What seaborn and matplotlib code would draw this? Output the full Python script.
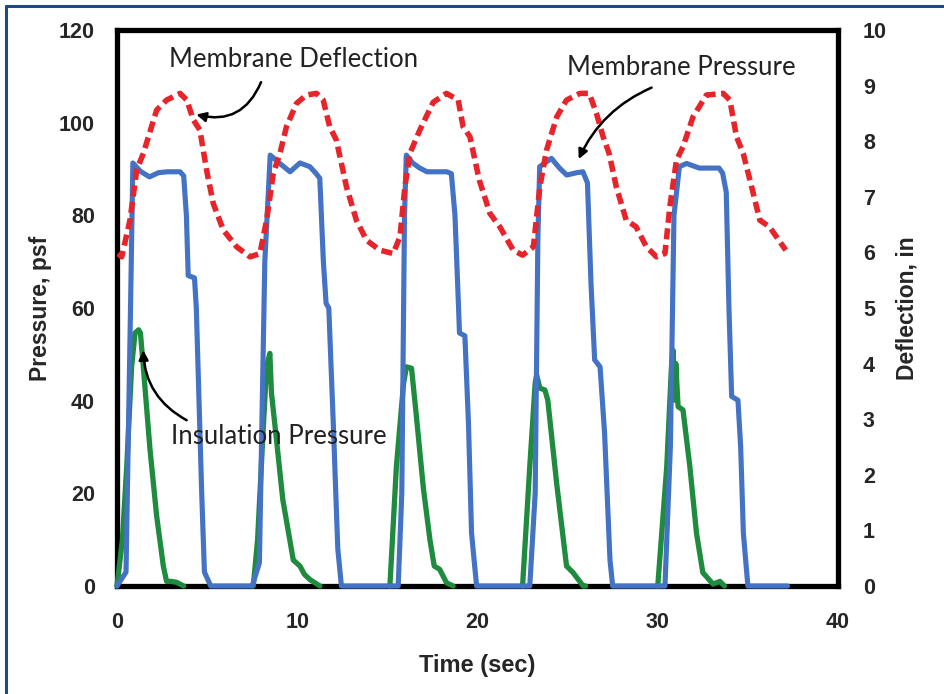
import matplotlib
matplotlib.use("Agg")
import matplotlib.pyplot as plt
import seaborn as sns
import pandas as pd
from matplotlib.lines import Line2D

# ---------------- data ----------------
mp_time = [0, 0.5, 0.75, 0.88, 1.3, 1.8, 2.3, 2.8, 3.5, 3.7, 3.85, 3.95, 4.3, 4.4, 4.7, 4.85, 5.2,
           7.5, 7.9, 8.2, 8.5, 9.0, 9.6, 10.15, 10.7, 11.05, 11.25, 11.45, 11.6, 11.75, 12.0, 12.25, 12.45,
           15.6, 15.8, 15.95, 16.05, 16.4, 16.8, 17.2, 18.3, 18.55, 18.75, 18.95, 19.0, 19.3, 19.5, 19.67, 19.95,
           22.9, 23.2, 23.35, 23.45, 24.1, 24.55, 24.95, 25.5, 25.85, 26.1, 26.3, 26.5, 26.8, 27.05, 27.35, 27.5,
           30.4, 30.7, 30.9, 31.2, 31.6, 32.3, 33.4, 33.6, 33.8, 33.95, 34.1, 34.45, 34.6, 34.75, 35.0, 37.2]
mp_psf = [0, 3, 60, 91.3, 89.5, 88.3, 89.2, 89.4, 89.4, 88.5, 80, 67, 66.5, 60, 20, 3, 0,
          0, 5, 70, 93, 91.3, 89.4, 91.3, 90.5, 89, 88, 70, 61, 60, 35, 8, 0,
          0, 20, 80, 93, 91.3, 90.2, 89.4, 89.4, 89, 80, 60, 54.6, 54, 35, 11.4, 0,
          0, 20, 75, 90.5, 92.3, 90.2, 88.7, 89.2, 89.4, 87, 65, 48.8, 47.3, 33, 5.6, 0,
          0, 30, 80, 90.5, 91.2, 90.2, 90.2, 89.1, 85, 60, 40.9, 40.1, 30, 11.4, 0, 0]

ins_cycle = [1] * 15 + [2] * 13 + [3] * 12 + [4] * 12 + [5] * 14
ins_time = [0, 0.3, 0.54, 0.81, 1.0, 1.2, 1.3, 1.46, 1.83, 2.2, 2.57, 2.75, 3.0, 3.3, 3.7,
            7.56, 7.8, 8.1, 8.3, 8.48, 8.57, 8.85, 9.2, 9.78, 10.15, 10.4, 10.7, 11.26,
            15.14, 15.5, 15.9, 16.06, 16.34, 16.6, 17.0, 17.36, 17.6, 17.9, 18.28, 18.65,
            22.5, 22.9, 23.2, 23.28, 23.46, 23.74, 23.9, 24.39, 24.94, 25.3, 25.86, 26.0,
            30.0, 30.5, 30.76, 30.85, 30.95, 31.0, 31.13, 31.4, 31.78, 32.15, 32.5, 33.07, 33.45, 33.7]
ins_psf = [0, 10, 25.8, 47.3, 54.6, 55.3, 54.6, 47.3, 29.5, 15.1, 4.3, 1, 1, 0.8, 0,
           0, 10, 33, 47.3, 50.2, 41.6, 31.5, 18.6, 5.6, 4.3, 2.5, 1.4, 0,
           0, 25.8, 43.8, 47.3, 47, 37, 21, 10, 4.3, 3.6, 0.7, 0,
           0, 25.8, 43.8, 45.5, 42.7, 42.3, 40.1, 22.2, 4.3, 2.9, 0, 0,
           0, 25.8, 47.3, 50.9, 40.1, 48, 38.7, 38, 25.8, 11.4, 2.9, 0.4, 1, 0]

def_time = [0.05, 0.26, 0.72, 1.09, 1.46, 2.2, 2.75, 3.5, 3.87, 4.24, 4.6, 4.97, 5.34, 5.9, 6.64, 7.38,
            7.93, 8.3, 8.67, 9.04, 9.4, 9.96, 10.5, 11.07, 11.44, 11.8, 12.17, 12.73, 13.28, 13.84, 14.58,
            15.32, 15.7, 15.97, 16.25, 16.8, 17.54, 18.28, 18.93, 19.2, 19.58, 20.1, 20.69, 21.24, 21.98,
            22.5, 23.1, 23.46, 23.83, 24.4, 24.94, 25.68, 26.2, 26.6, 26.97, 27.3, 27.7, 28.25, 28.8, 29.37,
            29.93, 30.4, 30.67, 31.04, 31.4, 31.96, 32.7, 33.63, 34.0, 34.37, 34.74, 35.3, 35.66, 36.2, 37.1]
def_in = [5.98, 5.92, 6.58, 7.48, 7.78, 8.56, 8.74, 8.86, 8.74, 8.38, 8.2, 7.48, 6.88, 6.4, 6.1, 5.92,
          5.98, 6.58, 7.42, 7.78, 8.26, 8.68, 8.83, 8.86, 8.74, 8.26, 8.02, 7.18, 6.58, 6.22, 6.04,
          5.98, 6.28, 7.18, 7.78, 8.2, 8.7, 8.86, 8.74, 8.26, 8.08, 7.3, 6.7, 6.46, 6.04,
          5.95, 6.1, 7.18, 7.84, 8.44, 8.74, 8.86, 8.86, 8.5, 8.08, 7.78, 7.18, 6.58, 6.46, 6.1,
          5.92, 5.98, 6.82, 7.66, 7.9, 8.44, 8.83, 8.86, 8.74, 8.08, 7.78, 7.06, 6.58, 6.46, 6.04]

x_ticks = [0, 10, 20, 30, 40]
left_ticks = [0, 20, 40, 60, 80, 100, 120]
right_ticks = list(range(0, 11))

# ---------------- style ----------------
sns.set_style("white")
plt.rcParams["font.family"] = ["Liberation Sans", "DejaVu Sans"]

BLUE = "#4472C4"
RED = "#E8242B"
GREEN = "#1E8B3E"

df_mp = pd.DataFrame({"t": mp_time, "p": mp_psf})
df_ins = pd.DataFrame({"t": ins_time, "p": ins_psf, "cycle": ins_cycle})
df_def = pd.DataFrame({"t": def_time, "d": def_in})

fig = plt.figure(figsize=(9.45, 6.94), dpi=100)
ax = fig.add_axes([117 / 945, 1 - 586 / 694, (838 - 117) / 945, (586 - 30) / 694])
ax2 = ax.twinx()

sns.lineplot(data=df_ins, x="t", y="p", units="cycle", estimator=None, sort=False,
             ax=ax, color=GREEN, linewidth=3.8, legend=False)
sns.lineplot(data=df_mp, x="t", y="p", sort=False, ax=ax, color=BLUE,
             linewidth=3.7, legend=False)
for ln in ax.get_lines():
    ln.set_zorder(3)
    ln.set_clip_on(False)

sns.lineplot(data=df_def, x="t", y="d", sort=False, ax=ax2, color=RED,
             linewidth=4.0, legend=False)
for ln in ax2.get_lines():
    ln.set_dashes((2.0, 1.0))
    ln.set_solid_capstyle("butt")

ax.set_xlim(0, 40)
ax.set_ylim(0, 120)
ax2.set_ylim(0, 10)
ax.set_xticks(x_ticks)
ax.set_yticks(left_ticks)
ax2.set_yticks(right_ticks)

tick_font = dict(family=["Liberation Sans", "DejaVu Sans"], weight="bold", size=15.5)
ax.set_xticklabels([str(v) for v in x_ticks], fontdict=tick_font)
ax.set_yticklabels([str(v) for v in left_ticks], fontdict=tick_font)
ax2.set_yticklabels([str(v) for v in right_ticks], fontdict=tick_font)

ax.tick_params(axis="x", direction="out", length=5, width=1, color="#555555", pad=14)
ax.tick_params(axis="y", length=0, pad=16)
ax2.tick_params(axis="y", which="major", left=False, right=True, length=0, pad=18)
for t in ax2.yaxis.get_major_ticks():
    t.set_pad(18)

ax.set_xlabel("Time (sec)", fontsize=17, fontweight="bold", labelpad=15)
ax.set_ylabel("Pressure, psf", fontsize=16.5, fontweight="bold", labelpad=5)
ax2.set_ylabel("Deflection, in", fontsize=16.5, fontweight="bold", labelpad=6)

for s in ax.spines.values():
    s.set_color("black")
    s.set_linewidth(3.8)
for name, s in ax2.spines.items():
    s.set_visible(False)
ax.grid(False)
ax2.grid(False)

# annotations
ann_font = dict(family=["Lato", "Open Sans", "DejaVu Sans"], size=18.5, color="#222222")
arrow = dict(arrowstyle="-|>", color="black", lw=1.8, mutation_scale=14)
ax2.annotate("", xy=(4.25, 101.9), xycoords=ax.transData,
             xytext=(8.05, 109.3), textcoords=ax.transData,
             arrowprops=dict(connectionstyle="arc3,rad=-0.45", **arrow))
ax2.text(9.8, 113.6, "Membrane Deflection", transform=ax.transData,
         ha="center", va="center", **ann_font)
ax2.annotate("", xy=(25.55, 91.6), xycoords=ax.transData,
             xytext=(29.8, 107.8), textcoords=ax.transData,
             arrowprops=dict(connectionstyle="arc3,rad=0.2", **arrow))
ax2.text(31.3, 111.8, "Membrane Pressure", transform=ax.transData,
         ha="center", va="center", **ann_font)
ax2.annotate("", xy=(1.45, 51.5), xycoords=ax.transData,
             xytext=(4.0, 35.5), textcoords=ax.transData,
             arrowprops=dict(connectionstyle="arc3,rad=-0.3", **arrow))
ax2.text(9.0, 32.3, "Insulation Pressure", transform=ax.transData,
         ha="center", va="center", **ann_font)

# figure border (top and left)
NAVY = "#1F4A86"
fig.add_artist(Line2D([6 / 945, 1.0], [1 - 6 / 694, 1 - 6 / 694], transform=fig.transFigure,
                      color=NAVY, linewidth=2.2))
fig.add_artist(Line2D([6 / 945, 6 / 945], [0, 1 - 6 / 694], transform=fig.transFigure,
                      color=NAVY, linewidth=2.2))

fig.savefig("out.png", dpi=100)
